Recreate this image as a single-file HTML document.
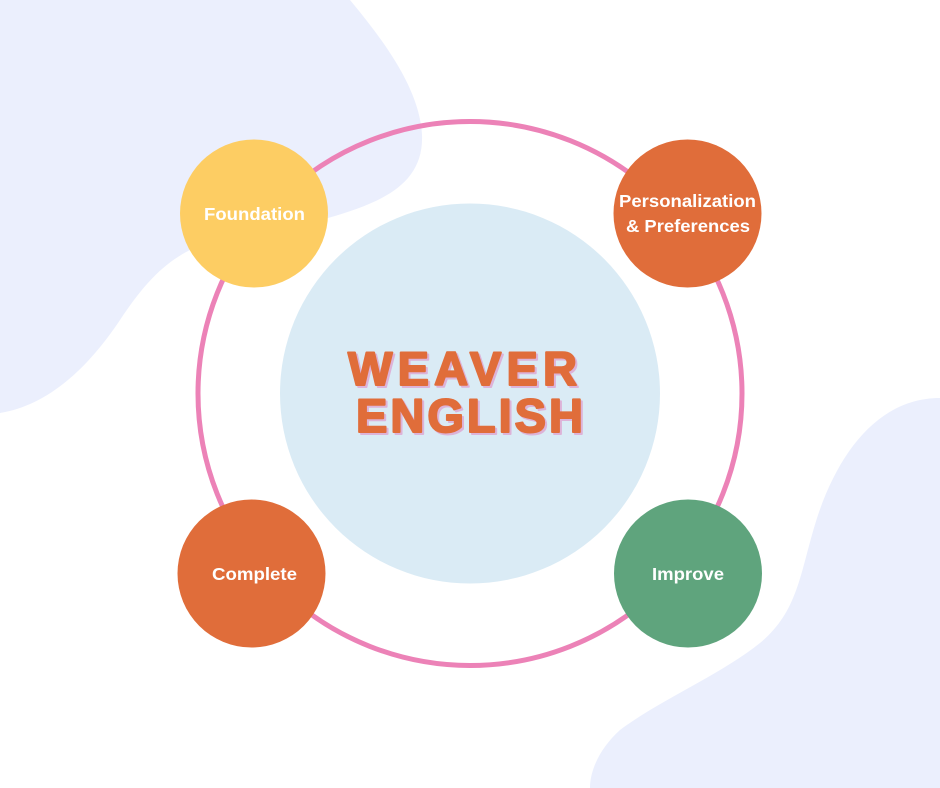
<!DOCTYPE html>
<html>
<head>
<meta charset="utf-8">
<style>
  html, body { margin: 0; padding: 0; background: #ffffff; }
  svg { display: block; }
  .lbl { font-family: "Liberation Sans", "DejaVu Sans", sans-serif; font-weight: bold; fill: #ffffff; font-size: 17.5px; }
  .big { font-family: "Liberation Sans", "DejaVu Sans", sans-serif; font-weight: bold; font-size: 47px; stroke-linejoin: round; }
</style>
</head>
<body>
<svg width="940" height="788" viewBox="0 0 940 788" xmlns="http://www.w3.org/2000/svg">
  <rect x="0" y="0" width="940" height="788" fill="#ffffff"/>
  <!-- background blobs -->
  <path d="M0,0 L350,0 C385,42 420,90 422,135 C424,185 380,203 328,218 L190,250 C160,265 140,290 120,320 C90,365 50,405 0,413 Z" fill="#EBEFFD"/>
  <path d="M940,398 C880,398 840,450 818,515 C800,570 800,610 760,643 C720,675 660,700 620,730 C600,748 590,770 590,788 L940,788 Z" fill="#EBEFFD"/>

  <!-- ring -->
  <circle cx="470" cy="393.5" r="272" fill="none" stroke="#EC82B7" stroke-width="5"/>

  <!-- center circle -->
  <circle cx="470" cy="393.5" r="190" fill="#DAEBF5"/>

  <!-- center text shadow -->
  <g class="big" fill="#DDB3D8" stroke="#DDB3D8" stroke-width="2">
    <text x="350" y="387" textLength="229" lengthAdjust="spacing">WEAVER</text>
    <text x="358" y="434" textLength="227" lengthAdjust="spacing">ENGLISH</text>
  </g>
  <!-- center text -->
  <g class="big" fill="#E06D3A" stroke="#E06D3A" stroke-width="2">
    <text x="348" y="385" textLength="229" lengthAdjust="spacing">WEAVER</text>
    <text x="356" y="432" textLength="227" lengthAdjust="spacing">ENGLISH</text>
  </g>

  <!-- nodes -->
  <circle cx="254" cy="213.5" r="74" fill="#FDCD63"/>
  <circle cx="687.5" cy="213.5" r="74" fill="#E06D3A"/>
  <circle cx="251.5" cy="573.5" r="74" fill="#E06D3A"/>
  <circle cx="688" cy="573.5" r="74" fill="#5FA47D"/>

  <text class="lbl" x="204" y="220" textLength="101" lengthAdjust="spacingAndGlyphs">Foundation</text>
  <text class="lbl" x="619" y="207" textLength="137" lengthAdjust="spacingAndGlyphs">Personalization</text>
  <text class="lbl" x="626" y="232" textLength="124" lengthAdjust="spacingAndGlyphs">&amp; Preferences</text>
  <text class="lbl" x="212" y="580" textLength="85" lengthAdjust="spacingAndGlyphs">Complete</text>
  <text class="lbl" x="652" y="580" textLength="72" lengthAdjust="spacingAndGlyphs">Improve</text>
</svg>
</body>
</html>
